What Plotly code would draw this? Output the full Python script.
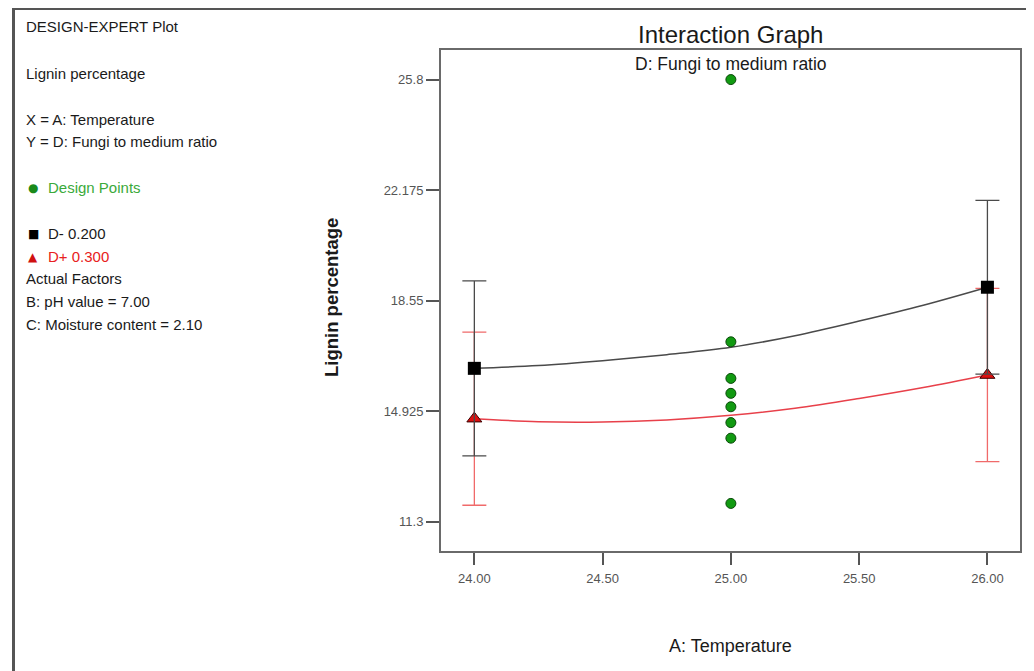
import plotly.graph_objects as go

# ---------------- data ----------------
temperature_ends = [24.0, 26.0]

d_minus_mean = [16.33, 18.99]          # D- 0.200 (black squares)
d_minus_err = [2.87, 2.85]
d_plus_mean = [14.68, 16.11]           # D+ 0.300 (red triangles)
d_plus_err = [2.84, 2.84]

curve_x = [24.0, 24.25, 24.5, 24.75, 25.0, 25.25, 25.5, 25.75, 26.0]
d_minus_curve = [16.33, 16.42, 16.58, 16.78, 17.02, 17.40, 17.88, 18.40, 18.99]
d_plus_curve = [14.68, 14.58, 14.57, 14.64, 14.79, 15.02, 15.34, 15.70, 16.11]

design_x = [25.0, 25.0, 25.0, 25.0, 25.0, 25.0, 25.0, 25.0]
design_y = [25.8, 17.2, 16.0, 15.51, 15.07, 14.55, 14.04, 11.90]

y_ticks = [11.3, 14.925, 18.55, 22.175, 25.8]
y_tick_text = ["11.3", "14.925", "18.55", "22.175", "25.8"]
x_ticks = [24.0, 24.5, 25.0, 25.5, 26.0]
x_tick_text = ["24.00", "24.50", "25.00", "25.50", "26.00"]

side_lines = [
    ("DESIGN-EXPERT Plot", 27, "#1a1a1a"),
    ("Lignin percentage", 73, "#1a1a1a"),
    ("X = A: Temperature", 119.5, "#1a1a1a"),
    ("Y = D: Fungi to medium ratio", 141.5, "#1a1a1a"),
    ("Actual Factors", 278.5, "#1a1a1a"),
    ("B: pH value = 7.00", 301.5, "#1a1a1a"),
    ("C: Moisture content = 2.10", 324.5, "#1a1a1a"),
]
legend_lines = [
    ("●", "Design Points", 188, "#1a8a1a", "#3aaa3a"),
    ("■", "D- 0.200", 233.5, "#000000", "#1a1a1a"),
    ("▲", "D+ 0.300", 256.5, "#d01010", "#e82020"),
]

# ---------------- layout geometry (screen pixels) ----------------
W, H = 1034, 671          # window size
OFF = 8                   # page body margin of the browser
L, R, T, B = 441, 1020, 50, 551   # plot frame in screen pixels


def px(x):
    return (x - L) / (R - L)


def py(y):
    return (B - y) / (B - T)


FONT = "Liberation Sans, Arial, sans-serif"

fig = go.Figure()

# red curve and points
fig.add_trace(go.Scatter(x=curve_x, y=d_plus_curve, mode="lines",
                         line=dict(color="#e8404a", width=1.5, shape="spline"),
                         hoverinfo="skip", showlegend=False))
fig.add_trace(go.Scatter(x=temperature_ends, y=d_plus_mean, mode="markers",
                         marker=dict(symbol="triangle-up", size=13, color="#dd1010",
                                     line=dict(color="#3a0000", width=1)),
                         error_y=dict(type="data", array=d_plus_err, color="#f06a6a",
                                      thickness=1.3, width=12),
                         showlegend=False))
# black curve and points
fig.add_trace(go.Scatter(x=curve_x, y=d_minus_curve, mode="lines",
                         line=dict(color="#4a4a4a", width=1.5, shape="spline"),
                         hoverinfo="skip", showlegend=False))
fig.add_trace(go.Scatter(x=temperature_ends, y=d_minus_mean, mode="markers",
                         marker=dict(symbol="square", size=13, color="#000000"),
                         error_y=dict(type="data", array=d_minus_err, color="#4a4a4a",
                                      thickness=1.3, width=12),
                         showlegend=False))
# design points
fig.add_trace(go.Scatter(x=design_x, y=design_y, mode="markers",
                         marker=dict(symbol="circle", size=10, color="#119a11",
                                     line=dict(color="#0a4a0a", width=1)),
                         showlegend=False))

annotations = []
# titles
annotations.append(dict(text="Interaction Graph", x=px(730), y=py(34), xref="paper", yref="paper",
                        showarrow=False, xanchor="center", yanchor="middle",
                        font=dict(family=FONT, size=24, color="#1a1a1a")))
annotations.append(dict(text="D: Fungi to medium ratio", x=px(731), y=py(64), xref="paper", yref="paper",
                        showarrow=False, xanchor="center", yanchor="middle",
                        font=dict(family=FONT, size=17.5, color="#1a1a1a")))
annotations.append(dict(text="A: Temperature", x=px(730), y=py(646), xref="paper", yref="paper",
                        showarrow=False, xanchor="center", yanchor="middle",
                        font=dict(family=FONT, size=18, color="#1a1a1a")))
annotations.append(dict(text="<b>Lignin percentage</b>", x=px(331), y=py(298), xref="paper", yref="paper",
                        showarrow=False, xanchor="center", yanchor="middle", textangle=-90,
                        font=dict(family=FONT, size=18.5, color="#1a1a1a")))
# side text
for txt, yy, col in side_lines:
    annotations.append(dict(text=txt, x=px(24), y=py(yy), xref="paper", yref="paper",
                            showarrow=False, xanchor="left", yanchor="middle",
                            font=dict(family=FONT, size=15, color=col)))
for sym, txt, yy, scol, tcol in legend_lines:
    annotations.append(dict(text=sym, x=px(33), y=py(yy), xref="paper", yref="paper",
                            showarrow=False, xanchor="center", yanchor="middle",
                            font=dict(family="DejaVu Sans, sans-serif", size=12, color=scol)))
    annotations.append(dict(text=txt, x=px(46), y=py(yy), xref="paper", yref="paper",
                            showarrow=False, xanchor="left", yanchor="middle",
                            font=dict(family=FONT, size=15, color=tcol)))

shapes = [
    dict(type="line", xref="paper", yref="paper", x0=px(13.5), x1=px(13.5), y0=py(7), y1=py(H + 5),
         line=dict(color="#555555", width=3)),
    dict(type="line", xref="paper", yref="paper", x0=px(12), x1=px(W + 5), y0=py(8.5), y1=py(8.5),
         line=dict(color="#555555", width=3)),
]

fig.update_layout(
    width=W - OFF, height=H - OFF,
    margin=dict(l=L - OFF, r=W - R, t=T - OFF, b=H - B, autoexpand=False),
    paper_bgcolor="white", plot_bgcolor="white",
    annotations=annotations, shapes=shapes,
    showlegend=False,
    xaxis=dict(range=[23.870, 26.127], tickvals=x_ticks, ticktext=x_tick_text,
               showgrid=False, zeroline=False, showline=True, linecolor="#6a6a6a",
               linewidth=2, mirror=True, ticks="outside", ticklen=12, tickwidth=1.5,
               tickcolor="#555555", ticklabelstandoff=2,
               tickfont=dict(family=FONT, size=13, color="#555555")),
    yaxis=dict(range=[10.34, 26.77], tickvals=y_ticks, ticktext=y_tick_text,
               showgrid=False, zeroline=False, showline=True, linecolor="#6a6a6a",
               linewidth=2, mirror=True, ticks="outside", ticklen=13, tickwidth=1.5,
               tickcolor="#555555",
               tickfont=dict(family=FONT, size=13, color="#555555")),
)

fig.write_html("out.html")
